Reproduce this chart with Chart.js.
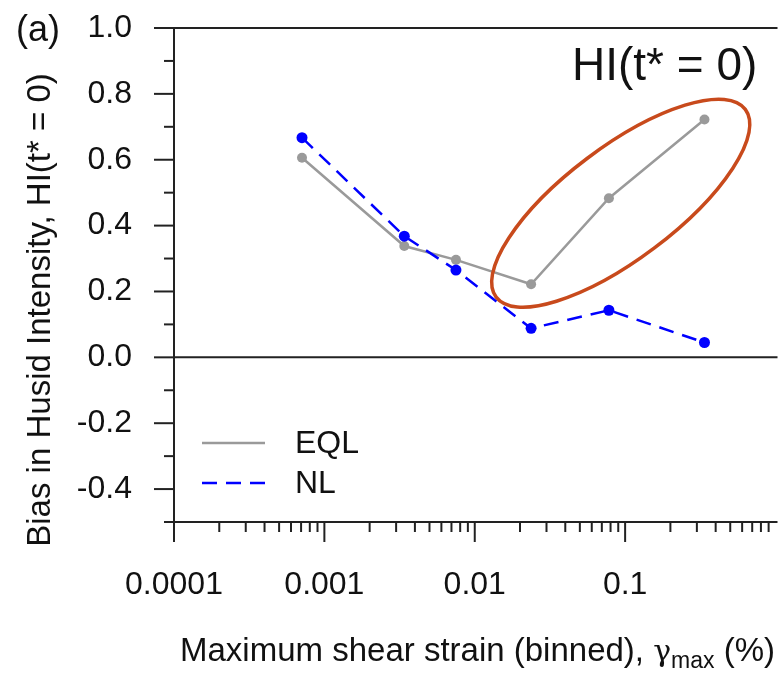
<!DOCTYPE html>
<html>
<head>
<meta charset="utf-8">
<script src="https://cdn.jsdelivr.net/npm/chart.js@4"></script>
<style>
  html, body { margin: 0; padding: 0; background: #fff; overflow: hidden; }
  #wrap { width: 781px; height: 674px; }
</style>
</head>
<body>
<div id="wrap"><canvas id="hi-chart" width="781" height="674"></canvas></div>
<script>
// binned max shear strain (%), and bias in Husid intensity at t* = 0
const strainBins = [0.00071, 0.0034, 0.0075, 0.0237, 0.078, 0.337];
const eqlBias = [0.606, 0.338, 0.296, 0.222, 0.483, 0.722];
const nlBias = [0.667, 0.368, 0.265, 0.088, 0.143, 0.045];

const xTickValues = [0.0001, 0.001, 0.01, 0.1];
const xTickLabels = ["0.0001", "0.001", "0.01", "0.1"];
const yTickValues = [-0.4, -0.2, 0, 0.2, 0.4, 0.6, 0.8, 1.0];
const yTickLabels = ["-0.4", "-0.2", "0.0", "0.2", "0.4", "0.6", "0.8", "1.0"];
const yMinorTicks = [-0.5, -0.3, -0.1, 0.1, 0.3, 0.5, 0.7, 0.9];

// circled region (EQL points at larger strains)
const ellipseCenter = [0.0935, 0.468];

const FONT = '"Liberation Sans", Arial, sans-serif';

function pts(xs, ys) {
  return xs.map((x, i) => ({ x: x, y: ys[i] }));
}

function seg(ctx, x1, y1, x2, y2) {
  ctx.beginPath();
  ctx.moveTo(x1, y1);
  ctx.lineTo(x2, y2);
  ctx.stroke();
}

const decor = {
  id: "decor",
  beforeDatasetsDraw(chart) {
    const { ctx, chartArea: a, scales } = chart;
    const x = scales.x, y = scales.y;
    ctx.save();
    ctx.strokeStyle = "#222";
    ctx.lineWidth = 2;
    seg(ctx, a.left, a.top, a.left, a.bottom);
    seg(ctx, a.left, a.bottom, a.right + 2, a.bottom);
    seg(ctx, a.left, a.top, a.right + 2, a.top);
    const y0 = y.getPixelForValue(0);
    seg(ctx, a.left, y0, a.right + 2, y0);
    yTickValues.forEach((v) => {
      const p = y.getPixelForValue(v);
      seg(ctx, a.left - 20, p, a.left, p);
    });
    yMinorTicks.forEach((v) => {
      const p = y.getPixelForValue(v);
      seg(ctx, a.left - 10, p, a.left, p);
    });
    xTickValues.forEach((v) => {
      const p = x.getPixelForValue(v);
      seg(ctx, p, a.bottom, p, a.bottom + 20);
      for (let m = 2; m <= 9; m++) {
        const q = x.getPixelForValue(v * m);
        seg(ctx, q, a.bottom, q, a.bottom + 10);
      }
    });
    ctx.restore();
  },
  afterDatasetsDraw(chart) {
    const { ctx, chartArea: a, scales } = chart;
    const x = scales.x, y = scales.y;
    ctx.save();

    // ellipse
    ctx.strokeStyle = "#c84a1c";
    ctx.lineWidth = 3.5;
    ctx.beginPath();
    ctx.ellipse(
      x.getPixelForValue(ellipseCenter[0]),
      y.getPixelForValue(ellipseCenter[1]),
      156, 56, (-37 * Math.PI) / 180, 0, Math.PI * 2
    );
    ctx.stroke();

    ctx.fillStyle = "#111";
    ctx.textBaseline = "alphabetic";

    // panel annotation
    ctx.font = `46px ${FONT}`;
    ctx.textAlign = "left";
    ctx.fillText("HI(t* = 0)", 572, 80);

    ctx.font = `36px ${FONT}`;
    ctx.fillText("(a)", 16, 41);

    // legend
    const legendY = [443, 483];
    ctx.font = `32px ${FONT}`;
    chart.data.datasets.forEach((ds, i) => {
      ctx.strokeStyle = ds.borderColor;
      ctx.lineWidth = ds.borderWidth;
      ctx.setLineDash(ds.borderDash || []);
      seg(ctx, a.left + 28, legendY[i], a.left + 91, legendY[i]);
      ctx.setLineDash([]);
      ctx.textBaseline = "middle";
      ctx.fillText(ds.label, a.left + 121, legendY[i] + 1);
    });

    // x title with subscript
    ctx.textBaseline = "alphabetic";
    let tx = 180;
    const ty = 661;
    ctx.font = `33px ${FONT}`;
    const part1 = "Maximum shear strain (binned), ";
    ctx.fillText(part1, tx, ty);
    tx += ctx.measureText(part1).width;
    ctx.font = `30px "DejaVu Serif", serif`;
    ctx.fillText("\u03b3", tx, ty);
    tx += ctx.measureText("\u03b3").width;
    ctx.font = `23px ${FONT}`;
    ctx.fillText("max", tx, ty + 7);
    tx += ctx.measureText("max").width;
    ctx.font = `33px ${FONT}`;
    ctx.fillText(" (%)", tx, ty);

    // y title
    ctx.translate(50, 310);
    ctx.rotate(-Math.PI / 2);
    ctx.textAlign = "center";
    ctx.font = `33px ${FONT}`;
    ctx.fillText("Bias in Husid Intensity, HI(t* = 0)", 0, 0);

    ctx.restore();
  },
};

Chart.defaults.font.family = FONT;
Chart.defaults.color = "#111";

new Chart(document.getElementById("hi-chart"), {
  type: "line",
  data: {
    datasets: [
      {
        label: "EQL",
        data: pts(strainBins, eqlBias),
        borderColor: "#9a9a9a",
        backgroundColor: "#9a9a9a",
        borderWidth: 2.5,
        pointRadius: 5,
        pointBorderWidth: 0,
        order: 2,
      },
      {
        label: "NL",
        data: pts(strainBins, nlBias),
        borderColor: "#0000ff",
        backgroundColor: "#0000ff",
        borderWidth: 2.5,
        borderDash: [15, 9],
        pointRadius: 5.5,
        pointBorderWidth: 0,
        order: 1,
      },
    ],
  },
  options: {
    responsive: false,
    animation: false,
    layout: { padding: { top: 28, right: 2, left: 0, bottom: 0 } },
    plugins: {
      legend: { display: false },
      tooltip: { enabled: false },
    },
    scales: {
      x: {
        type: "logarithmic",
        min: 0.0001,
        max: 1,
        grid: { display: false, drawTicks: false },
        border: { display: false },
        afterBuildTicks: (s) => {
          s.ticks = xTickValues.map((v) => ({ value: v }));
        },
        afterFit: (s) => {
          s.height = 152;
          s.paddingLeft = 0;
          s.paddingRight = 0;
        },
        ticks: {
          font: { size: 32 },
          padding: 44,
          autoSkip: false,
          maxRotation: 0,
          callback: (v, i) => xTickLabels[i],
        },
      },
      y: {
        min: -0.5,
        max: 1.0,
        grid: { display: false, drawTicks: false },
        border: { display: false },
        afterBuildTicks: (s) => {
          s.ticks = yTickValues.map((v) => ({ value: v }));
        },
        afterFit: (s) => {
          s.width = 174;
          s.paddingTop = 0;
          s.paddingBottom = 0;
        },
        ticks: {
          font: { size: 32 },
          padding: 42,
          callback: (v, i) => yTickLabels[i],
        },
      },
    },
  },
  plugins: [decor],
});
</script>
</body>
</html>
